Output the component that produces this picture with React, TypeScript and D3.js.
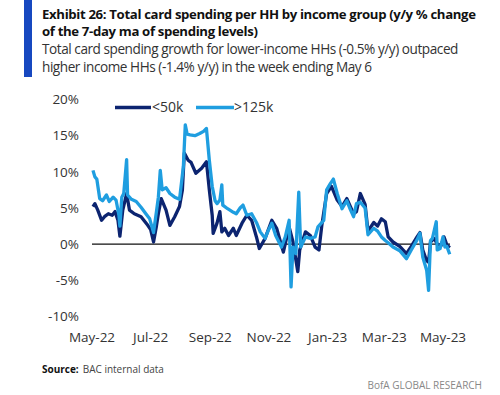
import React from "react";
import * as d3 from "d3";

// Day offsets from 2022-05-01
const days = [1,3,5,8,11,15,18,22,25,28,29,31,33,36,37,41,46,51,56,60,64,67,69,71,73,77,81,86,91,95,97,99,102,107,112,116,119,122,125,128,130,133,135,136,141,147,150,154,157,161,166,171,175,180,183,187,191,197,201,205,207,209,212,215,217,222,227,232,235,241,244,248,251,255,260,265,268,272,275,279,284,287,293,297,301,305,308,313,320,327,332,338,341,344,348,350,352,354,358,359,362,365,367,369,372];
const high125k = [10.2,9.3,9.0,6.3,6.0,6.8,5.9,6.5,6.1,4.0,2.5,6.5,7.0,11.7,6.8,6.2,5.9,5.1,4.2,3.5,1.6,4.5,6.5,10.2,7.5,7.8,7.0,6.5,6.2,10.7,16.5,15.2,15.1,15.0,15.3,15.6,16.0,11.6,8.0,6.0,5.6,6.1,8.2,5.4,4.9,4.4,4.2,5.0,5.4,4.0,4.2,3.0,1.7,0.8,1.8,2.9,1.2,-0.4,1.0,3.3,-5.9,-0.4,-1.3,7.2,-0.4,1.0,0.8,1.0,2.4,3.3,7.5,8.4,9.0,7.0,4.9,6.0,5.0,3.8,5.6,5.8,5.0,1.3,2.2,1.8,1.0,0.5,0.2,-0.4,-0.9,-2.0,-0.8,0.6,1.5,-1.8,-3.6,-6.4,0.5,0.8,3.1,-0.8,-0.6,1.0,-0.4,-0.3,-1.4];

const lowDays = [1,3,6,10,13,17,21,24,27,29,32,36,39,44,51,58,61,64,67,69,72,77,81,86,91,94,96,100,103,108,114,119,122,125,126,130,133,135,138,142,147,150,156,161,166,171,174,180,187,192,199,205,209,214,216,222,227,232,236,239,244,249,255,260,265,272,275,279,284,287,293,297,301,305,308,313,320,327,332,338,341,344,348,350,352,356,359,363,366,369,372];
const low50k = [5.2,5.6,4.7,3.3,3.8,4.2,4.0,4.5,3.3,1.1,4.7,7.0,4.7,4.2,3.8,2.6,2.0,0.3,2.5,4.2,6.3,4.7,2.6,3.8,5.2,7.5,12.6,11.6,11.3,9.8,10.5,11.4,7.5,4.0,1.5,2.9,4.5,1.7,2.2,1.2,2.2,1.2,2.9,4.0,3.3,1.0,-0.6,0.8,3.3,2.2,-1.1,2.4,0.3,-3.8,-0.8,1.7,1.2,-0.4,-0.8,2.6,7.0,8.0,6.1,5.2,6.3,4.2,4.5,7.0,5.5,1.8,3.0,2.5,3.5,3.1,1.0,0.3,-0.3,-1.3,-0.3,1.0,1.6,-0.8,-2.3,-2.5,0.3,0.8,0.0,-0.2,1.0,-0.1,-0.5];

const yTicks = [20, 15, 10, 5, 0, -5, -10];
const xTickLabels = ["May-22", "Jul-22", "Sep-22", "Nov-22", "Jan-23", "Mar-23", "May-23"];
const xTickDates = ["2022-05-01", "2022-07-01", "2022-09-01", "2022-11-01", "2023-01-01", "2023-03-01", "2023-05-01"];
const seriesNames = ["<50k", ">125k"];
const seriesColors = ["#0c2470", "#1f9ee0"];

const FONT = "'Open Sans', 'Noto Sans', sans-serif";

export default function App() {
  const W = 500, H = 395;
  const start = new Date(2022, 4, 1);
  const parse = d3.timeParse("%Y-%m-%d");
  const x = d3.scaleTime().domain([start, new Date(2023, 4, 1)]).range([92, 443]);
  const y = d3.scaleLinear().domain([-10, 20]).range([316.5, 99.5]);
  const toDate = (d: number) => d3.timeDay.offset(start, d);

  const line = d3.line<[number, number]>()
    .x((d) => x(toDate(d[0])))
    .y((d) => y(d[1]))
    .curve(d3.curveLinear);

  const lowData: [number, number][] = lowDays.map((d, i) => [d, low50k[i]]);
  const highData: [number, number][] = days.map((d, i) => [d, high125k[i]]);

  return (
    <svg width={W} height={H} style={{ position: "absolute", left: 0, top: 0, background: "#fff" }}>
      <rect x={0} y={0} width={W} height={H} fill="#fff" />
      <rect x={24} y={0} width={8} height={77} fill="#1748c0" />
      <text x={42} y={19} fontFamily={FONT} fontWeight={700} fontSize={13.2} letterSpacing={-0.35} fill="#111">
        Exhibit 26: Total card spending per HH by income group (y/y % change
      </text>
      <text x={42} y={35.5} fontFamily={FONT} fontWeight={700} fontSize={13.2} letterSpacing={-0.35} fill="#111">
        of the 7-day ma of spending levels)
      </text>
      <text x={42} y={54} fontFamily={FONT} fontSize={13.6} letterSpacing={-0.45} fill="#333">
        Total card spending growth for lower-income HHs (-0.5% y/y) outpaced
      </text>
      <text x={42} y={71.5} fontFamily={FONT} fontSize={13.6} letterSpacing={-0.45} fill="#333">
        higher income HHs (-1.4% y/y) in the week ending May 6
      </text>

      {yTicks.map((t) => (
        <text key={t} x={79} y={y(t)} dy="0.35em" textAnchor="end" fontFamily={FONT} fontSize={13.5} fill="#333">
          {t}%
        </text>
      ))}
      {xTickDates.map((s, i) => (
        <text key={s} x={x(parse(s) as Date)} y={342} textAnchor="middle" fontFamily={FONT} fontSize={13.5} fill="#333">
          {xTickLabels[i]}
        </text>
      ))}

      <line x1={92} x2={450} y1={y(0)} y2={y(0)} stroke="#111" strokeWidth={1.3} />

      <path d={line(lowData) || ""} fill="none" stroke={seriesColors[0]} strokeWidth={3.3} strokeLinejoin="round" />
      <path d={line(highData) || ""} fill="none" stroke={seriesColors[1]} strokeWidth={3.3} strokeLinejoin="round" />

      {/* legend */}
      <line x1={115} x2={151} y1={107.5} y2={107.5} stroke={seriesColors[0]} strokeWidth={3.5} />
      <text x={152} y={107} dy="0.35em" fontFamily={FONT} fontSize={14} fill="#333">{seriesNames[0]}</text>
      <line x1={196} x2={234} y1={107.5} y2={107.5} stroke={seriesColors[1]} strokeWidth={3.5} />
      <text x={234} y={107} dy="0.35em" fontFamily={FONT} fontSize={14} fill="#333">{seriesNames[1]}</text>

      <text x={42} y={373} fontFamily={FONT} fontSize={10} fill="#111">
        <tspan fontWeight={700}>Source:</tspan>
        <tspan dx={4} fill="#444">BAC internal data</tspan>
      </text>
      <text x={482} y={389} textAnchor="end" fontFamily={FONT} fontSize={10} fill="#888">
        BofA GLOBAL RESEARCH
      </text>
    </svg>
  );
}
